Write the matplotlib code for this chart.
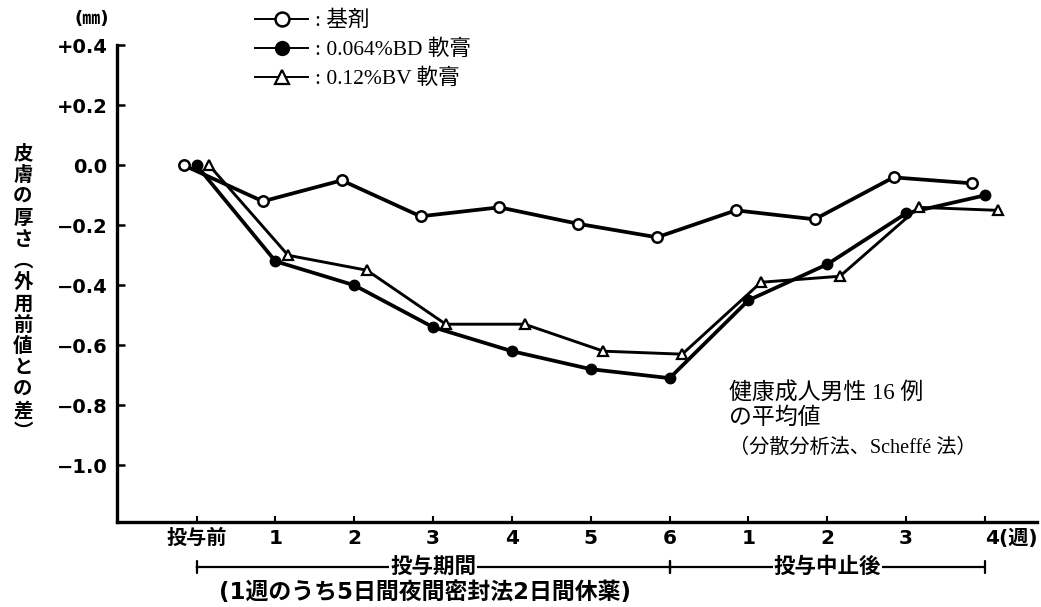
import matplotlib
matplotlib.use("Agg")
import matplotlib.pyplot as plt
from matplotlib.transforms import blended_transform_factory

# Weekly skin-thickness change from the pre-treatment value (mm)
week_labels = ["投与前", "1", "2", "3", "4", "5", "6", "1", "2", "3", "4"]
vehicle = [0.00, -0.12, -0.05, -0.17, -0.14, -0.195, -0.24, -0.15, -0.18, -0.04, -0.06]
bd_ointment = [0.00, -0.32, -0.40, -0.54, -0.62, -0.68, -0.71, -0.45, -0.33, -0.16, -0.10]
bv_ointment = [0.00, -0.30, -0.35, -0.53, -0.53, -0.62, -0.63, -0.39, -0.37, -0.14, -0.15]
series_names = [": 基剤", ": 0.064%BD 軟膏", ": 0.12%BV 軟膏"]
ytick_values = [0.4, 0.2, 0.0, -0.2, -0.4, -0.6, -0.8, -1.0]
ytick_labels = ["+0.4", "+0.2", "0.0", "−0.2", "−0.4", "−0.6", "−0.8", "−1.0"]

JP_BOLD = ["DejaVu Sans", "Noto Sans CJK JP"]
JP_SERIF = ["Liberation Serif", "Noto Sans CJK JP"]

W, H = 1041, 607
fig = plt.figure(figsize=(W / 100, H / 100), dpi=100)
ax = fig.add_axes([117 / W, 1 - 522 / H, (1037 - 117) / W, (522 - 45.5) / H])

x = list(range(len(week_labels)))
shift = 0.16
lw = 2.7
ax.plot([v - shift for v in x], vehicle, color="black", lw=lw, marker="o",
        ms=7.5, mfc="white", mec="black", mew=1.8, label=series_names[0], zorder=3)
ax.plot(x, bd_ointment, color="black", lw=lw, marker="o",
        ms=7.5, mfc="black", mec="black", label=series_names[1], zorder=3)
ax.plot([v + shift for v in x], bv_ointment, color="black", lw=lw - 0.6, marker="^",
        ms=7, mfc="white", mec="black", mew=1.6, label=series_names[2], zorder=3)

ax.set_xlim(-1.01, 10.66)
ax.set_ylim(-1.19, 0.40)

for side in ("top", "right"):
    ax.spines[side].set_visible(False)
for side in ("left", "bottom"):
    ax.spines[side].set_linewidth(2.4)

ax.set_yticks(ytick_values)
ax.set_yticklabels(ytick_labels, fontsize=14, fontweight="bold", family="DejaVu Sans")
ax.tick_params(axis="y", direction="in", length=6, width=1.8, pad=7)

xt_labels = list(week_labels)
xt_labels[-1] = "4(週)"
ax.set_xticks(x)
ax.set_xticklabels(xt_labels, fontsize=14.5, fontweight="bold", family=JP_BOLD)
ax.tick_params(axis="x", direction="in", length=4, width=1.5, pad=5)
# keep the "(週)" suffix to the right of the final tick
last = ax.get_xticklabels()[-1]
last.set_horizontalalignment("left")
last.set_x(x[-1] - 0.09)

# unit label above the y axis
fig.text(92 / W, 1 - 19 / H, "(㎜)", fontsize=13, fontweight="bold",
         family=JP_BOLD, ha="center", va="center")

# vertical y-axis title
ylabel_chars = ["皮", "膚", "の", "厚", "さ", "︵", "外", "用", "前", "値", "と", "の", "差", "︶"]
fig.text(23 / W, 1 - 293 / H, "\n".join(ylabel_chars), fontsize=14, fontweight="bold",
         family=JP_BOLD, ha="center", va="center", linespacing=1.16)

# legend
leg = fig.legend(loc="upper left", bbox_to_anchor=(246 / W, 1 - 2 / H),
                 frameon=False, handlelength=2.5, handletextpad=0.3,
                 labelspacing=0.4, borderaxespad=0,
                 prop={"family": JP_SERIF, "size": 15.5})
for h in leg.legend_handles:
    h.set_linewidth(1.4)
    h.set_markersize(10)

# annotation
fig.text(729 / W, 1 - 406 / H, "健康成人男性 16 例\nの平均値", fontsize=16.5,
         family=JP_SERIF, ha="left", va="center", linespacing=1.15)
fig.text(729 / W, 1 - 448 / H, "（分散分析法、Scheffé 法）", fontsize=14.5,
         family=JP_SERIF, ha="left", va="center")

# treatment period brackets below the axis
trans = blended_transform_factory(ax.transData, fig.transFigure)
ybr = 1 - 567 / H
for a, b in ((0, 6), (6, 10)):
    ax.annotate("", xy=(b, ybr), xytext=(a, ybr), xycoords=trans, textcoords=trans,
                arrowprops=dict(arrowstyle="|-|, widthA=0.4, widthB=0.4",
                                lw=1.6, color="black", shrinkA=0, shrinkB=0),
                annotation_clip=False)
box = dict(facecolor="white", edgecolor="none", pad=0.5)
ax.text(3.0, ybr, "投与期間", transform=trans, fontsize=15.5, fontweight="bold",
        family=JP_BOLD, ha="center", va="center", bbox=box, clip_on=False)
ax.text(8.0, ybr, "投与中止後", transform=trans, fontsize=15.5, fontweight="bold",
        family=JP_BOLD, ha="center", va="center", bbox=box, clip_on=False)
ax.text(2.9, 1 - 592 / H, "(1週のうち5日間夜間密封法2日間休薬)", transform=trans,
        fontsize=16.5, fontweight="bold", family=JP_BOLD, ha="center", va="center",
        clip_on=False)

fig.savefig("out.png", dpi=100)
